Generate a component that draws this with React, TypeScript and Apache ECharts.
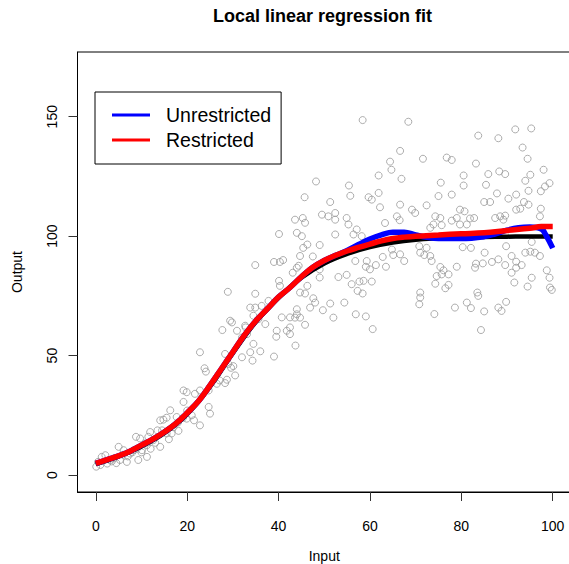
import React, { useEffect, useRef } from "react";
import * as echarts from "echarts";

const xTicks = [0, 20, 40, 60, 80, 100];
const yTicks = [0, 50, 100, 150];

// observed data points (Input, Output)
const dataX = [
  58.4, 68.4, 66.6, 64.4, 64.7, 61.9, 66.9, 71.6, 76.8, 77.9, 83.7, 88.1, 91.8, 95.3, 93.4, 94.5, 83.2, 98, 95.1, 94,
  99.3, 98.3, 97.4, 94.7, 92, 87.8, 85.9, 88.3, 89.6, 80.5, 80.5, 75.5, 85.4, 77.9, 75, 90.3, 85, 86.3, 93.7, 92.9,
  92, 94.7, 97.4, 97.2, 72.4, 69.2, 69.9, 66.6, 62.2, 61.9, 59.7, 60.4, 55.4, 55.7, 51.3, 48.2, 45.7, 49.5, 50.9, 52.4,
  52.4, 54.9, 55.3, 57.1, 56.4, 58.2, 52.4, 49, 43.6, 45.3, 45.8, 44, 45.1, 40.1, 46.3, 45.4, 44.7, 44.4, 44, 43.1,
  39, 40.3, 34.9, 40.1, 40.3, 46.3, 45.8, 44.7, 47.5, 49, 49, 53.1, 54.9, 56.8, 59.3, 59.1, 60, 61.3, 63.5, 56,
  57.7, 58.6, 60.4, 57.3, 58.4, 51.3, 49.7, 47.6, 46.9, 48, 44, 44, 43.6, 44.7, 45.8, 42.5, 41.8, 39.6, 39.5, 43.7,
  39, 52, 54.4, 56.9, 59.1, 60.6, 34.9, 34.9, 33.8, 36.3, 37.8, 34.5, 35.6, 37.1, 40.7, 28.9, 29.4, 27.7, 30.9, 32.7,
  33.1, 32, 34.5, 33.8, 36, 32, 28.3, 22.8, 63.3, 65.9, 66.5, 74.3, 75.4, 73.2, 73.9, 75.7, 77.9, 79, 79.7, 80.7,
  81.9, 82.8, 81.2, 79.7, 87.4, 88.5, 89.6, 89.2, 64.8, 65.1, 66.6, 67.5, 70.8, 71, 72.4, 71.9, 73.2, 73.5, 75.4, 76.1,
  75.7, 77.2, 74.6, 74.3, 76.5, 77.2, 79, 80.3, 82.1, 83.2, 83, 85.1, 84.7, 86.7, 88.1, 89.6, 89.8, 91, 92, 92,
  93.2, 91, 94, 95.1, 96.1, 97.2, 95.4, 98.7, 99.3, 99.8, 99.4, 95.4, 94.5, 91.6, 83.5, 83.7, 71, 71, 70.8, 74.1,
  78.6, 81.2, 82.1, 85, 88.1, 88.8, 89.8, 84.3, 62.8, 41, 29.8, 32.8, 42.5, 42.5, 34.3, 29, 23.8, 24.1, 29.6, 30.1,
  30.5, 28.7, 28.3, 22.8, 24.7, 25, 21.7, 19.2, 19.9, 19.2, 22.8, 21.5, 19.9, 19.1, 16.3, 17.7, 14.1, 14.8, 15.5, 13.5,
  14.5, 15.5, 16.6, 18.1, 11.9, 11.5, 12.6, 14.1, 11.2, 8.8, 9.7, 5, 6.1, 7.5, 8.3, 11.2, 6.8, 5.3, 3.2, 2.1,
  1.3, 0.1, 9.3, 10.1, 10.8, 26.5, 27.1, 24.7, 0.5, 1, 2.5, 3.5, 4, 4.5, 6, 7, 8, 9, 10, 12,
  13, 16, 17, 18, 20, 21,
];
const dataY = [
  148.6, 147.9, 135.7, 131.2, 127.8, 125.4, 124, 132.4, 132.9, 131.9, 142.1, 141, 144.7, 145.1, 137.1, 132.4, 130.4, 127.8, 125.7, 123.2,
  122.2, 120.8, 118.8, 119, 117.4, 117.9, 126, 127.1, 126, 125.4, 121.2, 122.4, 121.5, 117.4, 116.8, 115.7, 114.3, 114.3, 114.3, 111.5,
  111.1, 113.2, 111.5, 108.3, 112.9, 111.1, 109.7, 113.2, 112.1, 118.1, 116.3, 115.3, 121.2, 116.9, 114.3, 122.9, 116.3, 109, 108.3, 109.7,
  106.9, 107.6, 104.9, 102.8, 100.7, 100, 100.7, 96.3, 106.9, 107.6, 105.6, 101.4, 100, 100.9, 96.5, 95.1, 91.7, 87.6, 86.8, 84.7,
  89.2, 89.2, 87.9, 81.3, 79.2, 79.2, 76, 76.4, 91.5, 86.1, 82.7, 82.9, 83.8, 89.6, 89.6, 87.2, 86.1, 87.9, 87.2, 79.9,
  81, 81.3, 81, 77.1, 76, 71.8, 69, 74, 70.1, 72.2, 69.4, 67.3, 65.9, 65.9, 62.9, 61.8, 60.4, 60.4, 57.9, 54.2,
  49.6, 65.9, 72.2, 67.3, 66.4, 61.1, 75.9, 70.1, 70.1, 70.8, 72.9, 66.7, 65.3, 63.2, 66, 76.7, 64.6, 60.7, 60.4, 62.5,
  59, 57.6, 54.9, 51.4, 51.8, 49.3, 50.7, 51.4, 105.5, 108.3, 106.7, 108.3, 107.6, 103.5, 104.9, 104.6, 106.5, 107.6, 111.1, 110.4,
  107.4, 107.6, 104.9, 104.9, 107.6, 108.3, 108.6, 106.9, 94.4, 92.1, 92.4, 89.6, 95.8, 93.1, 95.1, 92.1, 91.7, 89.6, 87.1, 85.7,
  84, 84, 83.3, 80.1, 78.2, 79.6, 87.2, 95.4, 95.1, 88.5, 86.8, 93.1, 88.6, 89.2, 90.3, 87.9, 95.8, 91.7, 89.3, 86.8,
  87.9, 84.7, 93.1, 93.5, 93.1, 91.7, 97.6, 85.7, 82.6, 77.5, 78.5, 82.6, 78.9, 80.6, 76.4, 75, 76.4, 74.3, 71.5, 67.4,
  70.1, 72.2, 69.9, 68.5, 70.1, 68.7, 72.5, 60.7, 91.3, 90, 63.9, 61.8, 66, 59, 47.9, 46.5, 44.7, 43.3, 44.9, 45.6,
  41.7, 39.9, 38.5, 35.4, 28.5, 25.7, 34, 35.4, 34.7, 30.6, 20.8, 22.9, 23.6, 24, 27.1, 24.3, 22.9, 23.2, 24, 18.7,
  18.7, 17.4, 17.4, 18.5, 18, 16, 14.6, 11.8, 12.5, 16, 15.3, 11.8, 10.4, 9, 10.4, 7.6, 5.5, 6.3, 6.3, 8.3,
  7.6, 3.5, 6.3, 10.4, 13.2, 38.2, 39.6, 35.4, 5.5, 4.2, 4.8, 5.7, 7, 5, 8.5, 7.8, 9.5, 11, 9.5, 11,
  13.5, 15, 20, 22, 27, 25,
];

// true curve
const trueX = [0, 5, 10, 15, 20, 25, 30, 35, 40, 45, 50, 55, 60, 65, 70, 75, 80, 85, 90, 95, 100];
const trueY = [4.6, 7.8, 12, 17.5, 25.5, 37, 51, 64, 74.2, 82.6, 88.6, 92.6, 95.4, 97.3, 98.5, 99.1, 99.5, 99.7, 99.8, 99.9, 99.9];

// unrestricted local linear fit
const unrX = [0, 2.5, 5, 7.5, 10, 12.5, 15, 17.5, 20, 22.5, 25, 27.5, 30, 32.5, 35, 37.5, 40, 42.5, 45, 47.5, 50, 52.5, 55, 57.5, 60, 62.5, 65, 67.5, 70, 72.5, 75, 80, 85, 87.5, 90, 92.5, 95, 97.5, 98.5, 100];
const unrY = [4.9, 6.5, 8, 10, 12.5, 15, 18, 21.5, 26, 31, 37.5, 44.5, 51.5, 58.5, 64.5, 69.5, 74.5, 78.5, 83, 87, 89.8, 92, 94, 96.5, 98.8, 100.5, 101.6, 101.6, 100.5, 99.5, 99, 99, 99.8, 101, 102.5, 103.5, 103.8, 103, 100.5, 95];

// restricted local linear fit
const resX = [0, 2.5, 5, 7.5, 10, 12.5, 15, 17.5, 20, 22.5, 25, 27.5, 30, 32.5, 35, 37.5, 40, 42.5, 45, 47.5, 50, 52.5, 55, 57.5, 60, 62.5, 65, 67.5, 70, 75, 80, 85, 90, 95, 97.5, 100];
const resY = [4.9, 6.5, 8, 10, 12.5, 15, 18, 21.5, 26, 31, 37.5, 44.5, 51.5, 58.5, 64.5, 69.5, 74.5, 78.5, 83, 87, 89.8, 92, 93.8, 95.3, 96.7, 98, 99, 99.6, 100, 100.5, 101, 101.4, 102.4, 103.3, 104, 104];

const zip = (xs: number[], ys: number[]) => xs.map((x, i) => [x, ys[i]]);

const FONT = "'Liberation Sans', Arial, Helvetica, sans-serif";

export default function App() {
  const ref = useRef<HTMLDivElement>(null);
  useEffect(() => {
    if (!ref.current) return;
    const chart = echarts.init(ref.current, null, { renderer: "svg" });
    chart.setOption({
      animation: false,
      backgroundColor: "#ffffff",
      textStyle: { fontFamily: FONT },
      title: {
        text: "Local linear regression fit",
        left: 213,
        top: 7,
        padding: 0,
        textStyle: { fontFamily: FONT, fontSize: 18, fontWeight: "bold", color: "#000" },
      },
      legend: {
        data: ["Unrestricted", "Restricted"],
        orient: "vertical",
        left: 95,
        top: 92,
        padding: [13, 10, 14, 17],
        itemGap: 5,
        itemWidth: 38,
        itemHeight: 3,
        icon: "rect",
        borderColor: "#000",
        borderWidth: 1,
        selectedMode: false,
        textStyle: { fontFamily: FONT, fontSize: 19.5, color: "#000", padding: [0, 0, 0, 11] },
      },
      grid: {
        left: 77.5,
        top: 52,
        width: 493.5,
        height: 440,
        show: true,
        borderColor: "#000",
        borderWidth: 1,
        containLabel: false,
        outerBoundsMode: "none",
      },
      xAxis: {
        type: "value",
        min: -4,
        max: 104,
        name: "Input",
        nameLocation: "middle",
        nameGap: 57,
        nameTextStyle: { fontFamily: FONT, fontSize: 14, color: "#000" },
        axisLine: { show: true, onZero: false, lineStyle: { color: "#000", width: 1 } },
        axisTick: { show: true, inside: false, length: 9, customValues: xTicks, lineStyle: { color: "#333" } },
        axisLabel: { customValues: xTicks, margin: 27, fontSize: 14, color: "#000", fontFamily: FONT },
        splitLine: { show: false },
      },
      yAxis: {
        type: "value",
        min: -7.1,
        max: 177.1,
        name: "Output",
        nameLocation: "middle",
        nameGap: 54,
        nameRotate: 90,
        nameTextStyle: { fontFamily: FONT, fontSize: 14, color: "#000" },
        axisLine: { show: true, onZero: false, lineStyle: { color: "#000", width: 1 } },
        axisTick: { show: true, inside: false, length: 9, customValues: yTicks, lineStyle: { color: "#333" } },
        axisLabel: { customValues: yTicks, rotate: 90, margin: 19, fontSize: 14, color: "#000", fontFamily: FONT },
        splitLine: { show: false },
      },
      series: [
        {
          name: "Data",
          type: "scatter",
          data: zip(dataX, dataY),
          symbol: "circle",
          symbolSize: 7,
          itemStyle: { color: "rgba(0,0,0,0)", borderColor: "#999", borderWidth: 1 },
          z: 1,
        },
        {
          name: "True",
          type: "line",
          data: zip(trueX, trueY),
          showSymbol: false,
          smooth: 0.4,
          color: "#000",
          lineStyle: { color: "#000", width: 4.5 },
          z: 2,
        },
        {
          name: "Unrestricted",
          type: "line",
          data: zip(unrX, unrY),
          showSymbol: false,
          smooth: 0.4,
          color: "#0000ff",
          lineStyle: { color: "#0000ff", width: 5.5 },
          z: 3,
        },
        {
          name: "Restricted",
          type: "line",
          data: zip(resX, resY),
          showSymbol: false,
          smooth: 0.4,
          color: "#ff0000",
          lineStyle: { color: "#ff0000", width: 5.5 },
          z: 4,
        },
      ],
    });
    return () => chart.dispose();
  }, []);
  return (
    <div
      ref={ref}
      style={{ position: "fixed", left: 0, top: 0, width: 569, height: 564, background: "#fff" }}
    />
  );
}
